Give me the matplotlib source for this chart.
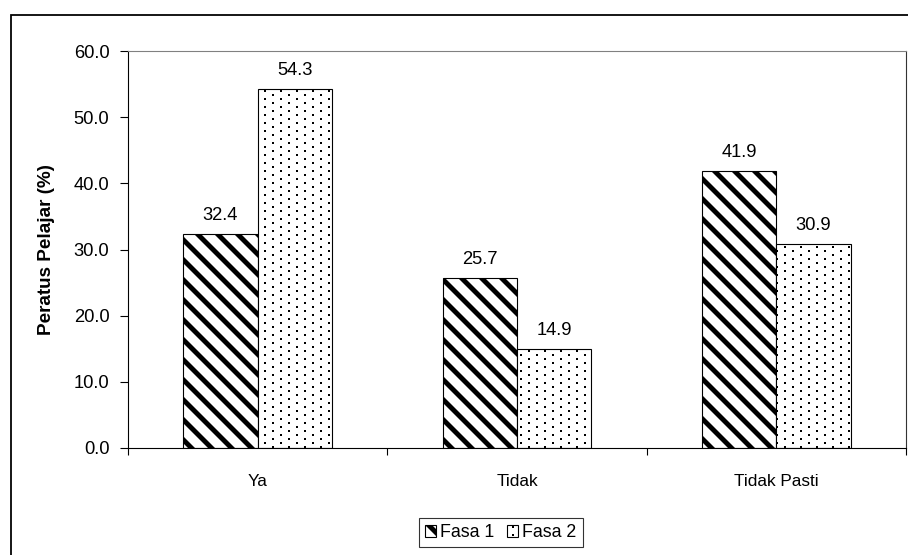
import matplotlib
matplotlib.use("Agg")
import matplotlib.pyplot as plt
import matplotlib.hatch as mhatch
from matplotlib.path import Path
from matplotlib.patches import Rectangle
import numpy as np

# ---- data ----
categories = ["Ya", "Tidak", "Tidak Pasti"]
series_names = ["Fasa 1", "Fasa 2"]
fasa1 = [32.4, 25.7, 41.9]
fasa2 = [54.3, 14.9, 30.9]
yticks = [0, 10, 20, 30, 40, 50, 60]
ylabel = "Peratus Pelajar (%)"

DPI = 80


# ---- custom Excel-like fill patterns (hatch unit = DPI pixels) ----
class StripeHatch(mhatch.HatchPatternBase):
    period_px = 20
    width_px = 7

    def __init__(self, hatch, density):
        if "\\" in hatch:
            n = DPI // self.period_px
            self.ks = list(range(-1, 2 * n + 2))
            self.num_vertices = 5 * len(self.ks)
        else:
            self.num_vertices = 0

    def set_vertices_and_codes(self, vertices, codes):
        step = self.period_px / DPI
        w = self.width_px / DPI
        pts = []
        for k in self.ks:
            c = k * step
            pts += [(-0.5, c + 0.5), (1.5, c - 1.5), (1.5, c + w - 1.5),
                    (-0.5, c + w + 0.5), (-0.5, c + 0.5)]
        vertices[:] = pts
        codes[:] = [Path.MOVETO, Path.LINETO, Path.LINETO, Path.LINETO,
                    Path.CLOSEPOLY] * len(self.ks)


class DotHatch(mhatch.HatchPatternBase):
    def __init__(self, hatch, density):
        if "." in hatch:
            rows = DPI // 4
            cols = DPI // 16
            self.pos = []
            for r in range(rows):
                off = 8 if r % 2 else 0
                for c in range(cols + 1):
                    self.pos.append(((16 * c + off) / DPI, (4 * r) / DPI))
            self.num_vertices = 5 * len(self.pos)
        else:
            self.num_vertices = 0

    def set_vertices_and_codes(self, vertices, codes):
        s = 2 / DPI
        pts = []
        for x, y in self.pos:
            pts += [(x, y), (x + s, y), (x + s, y + s), (x, y + s), (x, y)]
        vertices[:] = pts
        codes[:] = [Path.MOVETO, Path.LINETO, Path.LINETO, Path.LINETO,
                    Path.CLOSEPOLY] * len(self.pos)


mhatch._hatch_types[:] = [StripeHatch, DotHatch]

plt.rcParams["font.family"] = ["Liberation Sans", "DejaVu Sans"]
plt.rcParams["hatch.linewidth"] = 0.0
plt.rcParams["hatch.color"] = "black"

FS_NUM = 16.5
FS_CAT = 15.5
FS_LEG = 16
FS_YL = 17

fig = plt.figure(figsize=(908 / DPI, 555 / DPI), dpi=DPI)
ax = fig.add_axes([128 / 908, 1 - 448 / 555, (906 - 128) / 908, (448 - 51) / 555])

x = np.arange(len(categories))
w = 0.287
b1 = ax.bar(x - w / 2, fasa1, w, facecolor="white", edgecolor="black",
            linewidth=1.0, hatch="\\", label=series_names[0], zorder=2)
b2 = ax.bar(x + w / 2, fasa2, w, facecolor="white", edgecolor="black",
            linewidth=1.0, hatch=".", label=series_names[1], zorder=2)

ax.bar_label(b1, fmt="%.1f", padding=9, fontsize=FS_NUM)
ax.bar_label(b2, fmt="%.1f", padding=9, fontsize=FS_NUM)

ax.set_xlim(-0.5, len(categories) - 0.5)
ax.set_ylim(0, 60)
ax.set_yticks(yticks)
ax.set_yticklabels([f"{v:.1f}" for v in yticks], fontsize=FS_NUM)
ax.tick_params(axis="y", direction="out", length=7.2, width=1.0, pad=9.6,
               colors="black")

ax.set_xticks(np.arange(len(categories) + 1) - 0.5)
ax.set_xticklabels([""] * (len(categories) + 1))
ax.tick_params(axis="x", which="major", direction="out", length=6.3, width=1.0)
ax.set_xticks(x, minor=True)
ax.set_xticklabels(categories, minor=True, fontsize=FS_CAT)
ax.tick_params(axis="x", which="minor", length=0, pad=23)

ax.spines["left"].set_color("black")
ax.spines["bottom"].set_color("black")
ax.spines["top"].set_color("#808080")
ax.spines["right"].set_color("#333333")
for s in ax.spines.values():
    s.set_linewidth(1.0)

ax.set_ylabel(ylabel, fontsize=FS_YL, fontweight="bold", va="center")
ax.yaxis.set_label_coords((47 - 128) / 778, 0.5)

leg = fig.legend(handles=[b1, b2], labels=series_names, loc="upper left",
                 bbox_to_anchor=(419 / 908, 1 - 518 / 555), ncol=2,
                 fontsize=FS_LEG, frameon=True, fancybox=False, shadow=False,
                 borderaxespad=0, borderpad=0.35, handlelength=0.6,
                 handleheight=0.6, handletextpad=0.25, columnspacing=0.7)
leg.get_frame().set_edgecolor("black")
leg.get_frame().set_linewidth(1.0)

# outer chart frame (cropped on the right and bottom)
fig.patches.append(Rectangle((11 / 908, -0.2), 2.0, 1.2 - 15 / 555,
                             transform=fig.transFigure, fill=False,
                             edgecolor="black", linewidth=1.6, clip_on=False))

fig.savefig("out.png", dpi=DPI)
